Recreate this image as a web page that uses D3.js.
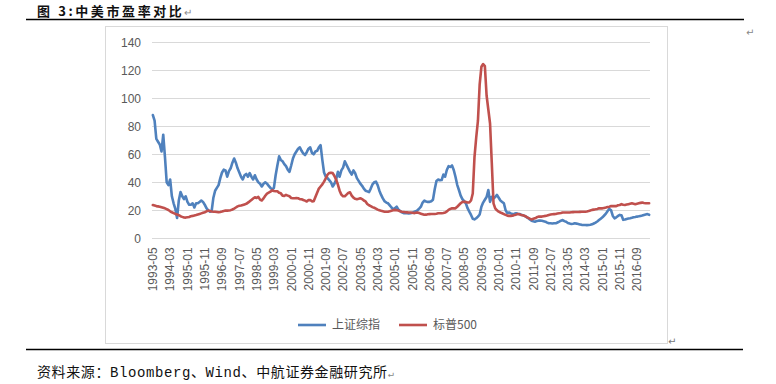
<!DOCTYPE html>
<html>
<head>
<meta charset="utf-8">
<script src="https://cdn.jsdelivr.net/npm/d3@7"></script>
<style>
  html, body { margin: 0; padding: 0; background: #fff; }
  svg { display: block; }
</style>
</head>
<body>
<svg id="chart" width="776" height="384"></svg>
<script>
// ---------- DATA ----------
const startMonth = "1993-05";
const tickLabels = ["1993-05","1994-03","1995-01","1995-11","1996-09","1997-07","1998-05","1999-03",
  "2000-01","2000-11","2001-09","2002-07","2003-05","2004-03","2005-01","2005-11","2006-09","2007-07",
  "2008-05","2009-03","2010-01","2010-11","2011-09","2012-07","2013-05","2014-03","2015-01","2015-11","2016-09"];
const yTicks = [0, 20, 40, 60, 80, 100, 120, 140];
const seriesNames = ["上证综指", "标普500"];

const shanghaiPE = [
  88, 84, 71, 69, 67, 62, 74, 58, 40, 38,
  42, 30, 25, 21, 14.5, 27, 33, 30, 28, 30,
  26, 24, 24, 25, 22, 25, 25, 26, 27, 26,
  24, 21.5, 20, 19, 19.5, 29, 34, 36, 38, 43,
  47, 49, 48.5, 44, 48, 50, 54, 57, 54, 50,
  47, 44, 42, 45, 46, 44, 46.5, 44, 42, 45,
  42, 40, 39, 37, 39, 40, 39, 37.5, 36, 35,
  36, 45, 52, 58.5, 56, 55, 53, 51.5, 49, 47.5,
  52, 57, 60, 62, 64, 65, 62.5, 60.5, 59.5, 61.5,
  64, 65, 61, 60, 62, 62.5, 65, 66.5, 56, 47,
  44, 43, 41.5, 40, 37, 39, 42, 47.5, 44, 48.5,
  50.5, 55, 52.5, 50, 47.5, 45.5, 48.5, 46.5, 43, 41,
  39, 37.5, 35.5, 34, 33.5, 33, 35.5, 38.5, 40, 40.5,
  38, 34, 31, 28.5, 26.5, 25.5, 25, 23.5, 22, 20.7,
  21.5, 22.6, 20.5, 19.5, 18.5, 18, 18, 17.9, 17.8, 17.9,
  18.2, 18.8, 19.3, 20, 21.2, 22.6, 25.5, 26.9, 26.3, 26,
  26, 26.5, 27.6, 35, 41, 42, 41.5, 41.6, 45.5, 44,
  48.8, 51.5, 51, 52, 48.8, 44, 38.2, 34.5, 30.5, 28,
  26.5, 25, 21.5, 19, 16.7, 14, 13.5, 14.3, 15.5, 17,
  22.6, 25.5, 27.5, 29.5, 34.5, 26, 29.7, 28.5, 29.5, 31,
  29, 27, 26, 25, 20, 18, 18.4, 17.8, 17.4, 17.6,
  17.9, 17.5, 17.4, 16.8, 16.5, 16, 15.2, 14.5, 13.5, 12.6,
  12.2, 11.9, 12.3, 12.6, 12.6, 12.5, 12.2, 11.9, 11.2, 10.7,
  10.7, 10.6, 10.8, 10.7, 11.3, 11.9, 12.6, 13, 12.3, 11.8,
  10.9, 10.5, 10.2, 10.4, 10.7, 10.5, 10.2, 9.9, 9.6, 9.5,
  9.5, 9.4, 9.5, 9.7, 10, 10.6, 11.2, 12, 13, 14,
  15, 16.3, 17.6, 19.5, 21, 20, 16, 14.3, 15, 16,
  16.7, 16.5, 13.2, 13.4, 13.8, 14.1, 14.3, 14.6, 15, 15.2,
  15.5, 15.7, 16, 16.3, 16.7, 17, 17.3, 16.8
];

const sp500PE = [
  23.8, 23.4, 23, 22.8, 22.6, 22.2, 21.8, 21.4, 20.8, 20.2,
  19.3, 18.6, 18, 17.4, 17, 16.5, 15.8, 15.3, 14.9, 14.8,
  15, 15.2, 15.8, 16, 16.3, 16.6, 17, 17.4, 17.8, 18.2,
  18.6, 19.2, 19.8, 19.5, 19.1, 19, 19, 18.8, 18.6, 18.8,
  19.1, 19.5, 19.8, 19.8, 19.9, 20.1, 20.6, 21.2, 22, 22.8,
  23.2, 23.4, 23.8, 24.2, 24.6, 25.5, 26.4, 27.4, 28.4, 29.3,
  28.8, 29.6, 27.6, 27, 28.5, 30.4, 31.9, 32.6, 33.3, 34.3,
  33.8, 33.6, 33.6, 32.5, 32.1, 30.5, 30.3, 31, 30.5, 30,
  28.8, 28.6, 28.6, 28.7, 28.6, 28, 27.9, 27.4, 26.9, 26.3,
  27.3, 27.4, 26.4, 26.5, 29.5, 32.5, 35.5, 37, 38.5, 40.5,
  42.8, 45.5, 46.6, 46.9, 46.6, 44.5, 41.8, 38.4, 34, 31.2,
  30, 30, 31.2, 32.4, 32.9, 30.5, 29, 28.2, 27.9, 28.2,
  28.6, 28, 27, 26.3, 24.5, 23.6, 23, 22.3, 21.8, 21.2,
  20.5, 20, 19.6, 19.3, 19, 19, 19, 19.3, 19.7, 20,
  20.3, 20.1, 19.8, 19.3, 19, 18.8, 18.6, 18.5, 18.4, 18.4,
  18.3, 18, 18.2, 18.4, 18, 17.6, 17.2, 16.8, 16.9, 17.2,
  17.3, 17.4, 17.4, 17.4, 17.6, 17.9, 17.9, 17.9, 18.1, 18.4,
  19.2, 20.3, 21, 21.4, 21.4, 21.4, 22.5, 23.8, 25, 26,
  26, 26, 25.6, 25.6, 27, 32, 58, 72, 84, 110,
  122.5, 124.5, 123, 102, 92, 82, 54, 25, 21.4, 20,
  19, 18.4, 17.9, 17.3, 16.7, 16.2, 16, 16, 16.1, 16.6,
  16.9, 17.4, 17.1, 16.7, 16.4, 16, 15.4, 14.6, 14, 13.5,
  13.9, 14.3, 15, 15.5, 15.5, 15.5, 15.8, 16, 16.3, 16.7,
  17, 17.2, 17.3, 17.4, 17.7, 17.9, 18.1, 18.4, 18.4, 18.4,
  18.4, 18.4, 18.6, 18.7, 18.8, 18.8, 18.8, 18.9, 19, 19,
  19, 19.2, 19.5, 19.9, 20.3, 20.5, 20.7, 21, 21.4, 21.4,
  21.4, 21.7, 22, 22.4, 22.6, 23, 23, 23, 23, 23.6,
  23.8, 24.4, 24, 23.8, 24.1, 24.4, 24.7, 25, 24.7, 24.4,
  24.7, 25, 25.3, 25.5, 25.2, 25, 25, 25
];

// month categories (one per value)
const fmt = d3.timeFormat("%Y-%m");
const parse = d3.timeParse("%Y-%m");
const months = d3.range(shanghaiPE.length).map(i => fmt(d3.timeMonth.offset(parse(startMonth), i)));

// ---------- LAYOUT ----------
const svg = d3.select("#chart");
const plot = { left: 152, right: 650, top: 42.3, bottom: 238.3 };
const colors = ["#4F81BD", "#C0504D"];

// page title
const title = svg.append("text").attr("x", 37).attr("y", 16)
  .style("font-family", "'Noto Sans CJK SC', sans-serif").style("font-size", "13px")
  .style("font-weight", "700").style("letter-spacing", "2.6px").attr("fill", "#111");
title.append("tspan").text("图 3:中美市盈率对比");
title.append("tspan").text("↵").attr("fill", "#888").style("font-weight", "400").style("font-size", "10px").style("letter-spacing", "0");

svg.append("line").attr("x1", 26).attr("x2", 744).attr("y1", 19.5).attr("y2", 19.5)
  .attr("stroke", "#000").attr("stroke-width", 1.3);
svg.append("text").attr("x", 746).attr("y", 36).text("↵")
  .attr("fill", "#888").style("font-size", "10px").style("font-family", "'DejaVu Sans'");

// chart frame
svg.append("rect").attr("x", 105.5).attr("y", 26.5).attr("width", 562).attr("height", 317)
  .attr("fill", "#fff").attr("stroke", "#d9d9d9").attr("stroke-width", 1);
svg.append("text").attr("x", 668).attr("y", 345).text("↵")
  .attr("fill", "#777").style("font-size", "10px").style("font-family", "'DejaVu Sans'");

// scales
const x = d3.scaleBand().domain(months).range([plot.left, plot.right]);
const xc = m => x(m) + x.bandwidth() / 2;
const y = d3.scaleLinear().domain([0, 140]).range([plot.bottom, plot.top]);

// gridlines
svg.append("g").selectAll("line").data(yTicks).join("line")
  .attr("x1", plot.left).attr("x2", plot.right)
  .attr("y1", d => Math.round(y(d)) + 0.5).attr("y2", d => Math.round(y(d)) + 0.5)
  .attr("stroke", "#d9d9d9").attr("stroke-width", 1);

// y axis
const yAxis = svg.append("g").attr("transform", `translate(${plot.left},0)`)
  .call(d3.axisLeft(y).tickValues(yTicks).tickSize(0).tickPadding(11));
yAxis.select(".domain").remove();
yAxis.selectAll("text").attr("fill", "#595959")
  .style("font-family", "'Liberation Sans', Arial, sans-serif").style("font-size", "12px");

// x axis
const xAxis = svg.append("g").attr("transform", `translate(0,${plot.bottom})`)
  .call(d3.axisBottom(x).tickValues(tickLabels).tickSize(0));
xAxis.select(".domain").remove();
xAxis.selectAll("text")
  .attr("transform", "rotate(-90)")
  .attr("x", -9).attr("y", 0).attr("dy", "0.36em")
  .style("text-anchor", "end").attr("fill", "#595959")
  .style("font-family", "'Liberation Sans', Arial, sans-serif").style("font-size", "12px");

// lines
const line = d3.line().x((d, i) => xc(months[i])).y(d => y(d));
[shanghaiPE, sp500PE].forEach((s, k) => {
  svg.append("path").datum(s).attr("d", line)
    .attr("fill", "none").attr("stroke", colors[k]).attr("stroke-width", 2.6)
    .attr("stroke-linejoin", "round").attr("stroke-linecap", "round");
});

// legend
const legendPos = [298, 399];
const lg = svg.append("g");
seriesNames.forEach((name, k) => {
  const g = lg.append("g").attr("transform", `translate(${legendPos[k]},325)`);
  g.append("line").attr("x1", 0).attr("x2", 28).attr("y1", 0).attr("y2", 0)
    .attr("stroke", colors[k]).attr("stroke-width", 2.6);
  g.append("text").attr("x", 34).attr("y", 0).attr("dy", "0.36em").text(name)
    .attr("fill", "#595959")
    .style("font-family", "'Noto Sans CJK SC', sans-serif").style("font-size", "12px");
});

// bottom rule and source
svg.append("line").attr("x1", 26).attr("x2", 743).attr("y1", 349.5).attr("y2", 349.5)
  .attr("stroke", "#000").attr("stroke-width", 1.3);
const src = svg.append("text").attr("x", 37).attr("y", 377)
  .style("font-family", "'Liberation Mono', 'Noto Sans CJK SC', monospace").style("font-size", "14px")
  .style("letter-spacing", "0.6px").attr("fill", "#111");
src.append("tspan").text("资料来源：Bloomberg、Wind、中航证券金融研究所");
src.append("tspan").text("↵").attr("fill", "#888").style("font-size", "10px").style("letter-spacing", "0");
</script>
</body>
</html>
